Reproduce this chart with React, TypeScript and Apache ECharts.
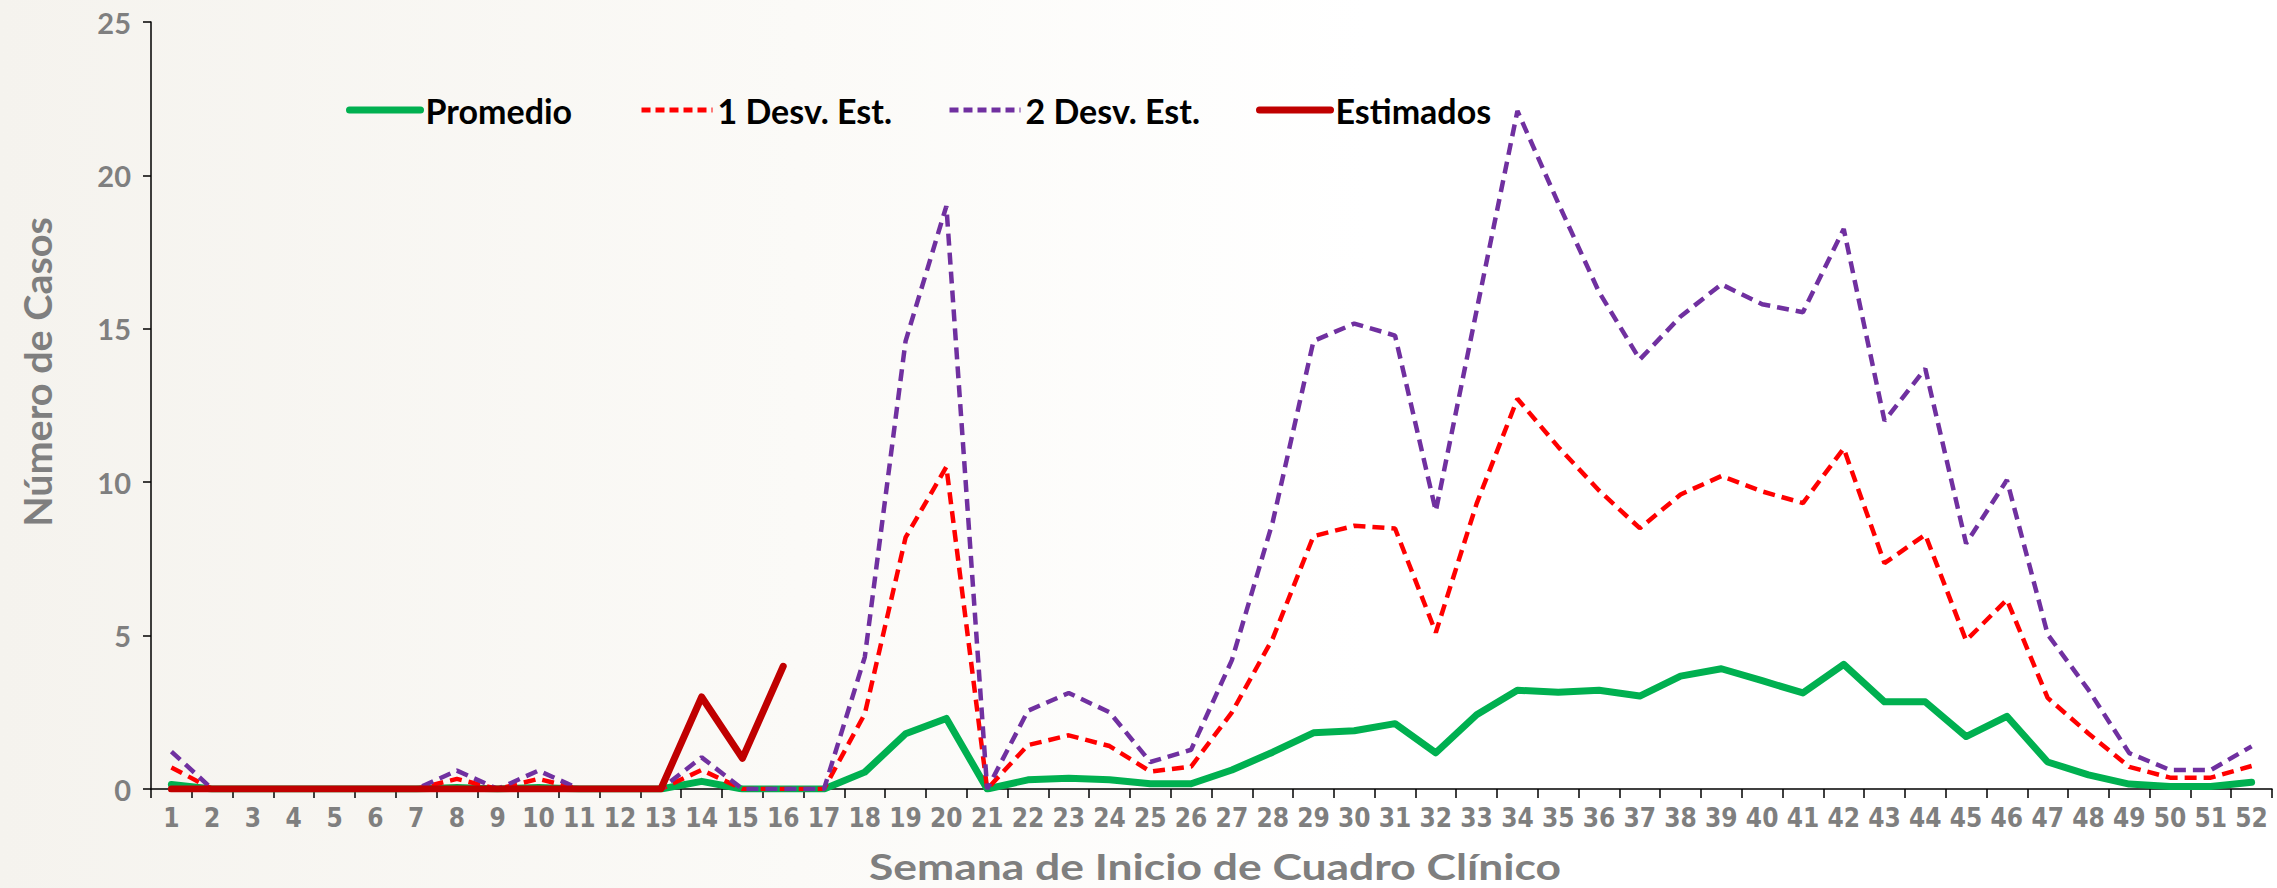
import React, { useEffect, useRef } from "react";
import * as echarts from "echarts";

const weeks = ["1","2","3","4","5","6","7","8","9","10","11","12","13","14","15","16","17","18","19","20","21","22","23","24","25","26","27","28","29","30","31","32","33","34","35","36","37","38","39","40","41","42","43","44","45","46","47","48","49","50","51","52"];

const promedio = [0.15,0,0,0,0,0,0,0.05,0,0.05,0,0,0,0.25,0,0,0,0.55,1.8,2.3,0,0.3,0.35,0.3,0.17,0.17,0.62,1.2,1.83,1.9,2.13,1.18,2.42,3.22,3.15,3.22,3.03,3.68,3.92,3.53,3.13,4.06,2.84,2.84,1.71,2.37,0.88,0.46,0.16,0.08,0.08,0.22];

const desv1 = [0.7,0,0,0,0,0,0,0.33,0,0.33,0,0,0,0.62,0,0,0,2.45,8.2,10.5,0,1.43,1.75,1.4,0.57,0.73,2.5,4.9,8.24,8.58,8.49,5.1,9.3,12.72,11.15,9.73,8.5,9.6,10.2,9.7,9.32,11.1,7.36,8.29,4.84,6.17,2.97,1.81,0.72,0.37,0.37,0.75];

const desv2 = [1.22,0,0,0,0,0,0,0.6,0,0.6,0,0,0,1.03,0,0,0,4.3,14.6,19.0,0,2.55,3.13,2.5,0.88,1.28,4.2,8.7,14.6,15.17,14.78,9.06,15.6,22.1,19.1,16.2,14.0,15.4,16.45,15.8,15.54,18.25,12.0,13.7,8.0,10.07,5.04,3.23,1.17,0.62,0.62,1.39];

const estimados = [0,0,0,0,0,0,0,0,0,0,0,0,0,3,1,4];

const seriesNames = ["Promedio", "1 Desv. Est.", "2 Desv. Est.", "Estimados"];
const seriesColors = ["#00b050", "#ff0000", "#7030a0", "#c00000"];
const yTicks = { min: 0, max: 25, interval: 5 };

const legendLefts = [346, 639, 947, 1256];
const lineWidths = [7, 4.5, 4.5, 7];
const dash: number[] = [12, 7];

export default function App() {
  const ref = useRef<HTMLDivElement>(null);
  useEffect(() => {
    if (!ref.current) return;
    const chart = echarts.init(ref.current, null, { renderer: "svg" });
    const grey = "#7f7f7f";
    const legendText = {
      color: "#000000",
      fontFamily: "Lato",
      fontWeight: "bold" as const,
      fontSize: 34,
    };
    chart.setOption({
      animation: false,
      backgroundColor: {
        type: "linear",
        x: 0, y: 0, x2: 1, y2: 0,
        colorStops: [
          { offset: 0, color: "#f5f3ee" },
          { offset: 0.35, color: "#fbfaf7" },
          { offset: 0.6, color: "#ffffff" },
          { offset: 1, color: "#ffffff" },
        ],
      },
      grid: { left: 151, right: 5, top: 22, bottom: 99, containLabel: false },
      legend: seriesNames.map((n, i) => ({
        data: [n],
        left: legendLefts[i],
        top: 93,
        padding: 0,
        itemWidth: 71,
        itemHeight: 24,
        itemGap: 0,
        itemStyle: { opacity: 0 },
        lineStyle: {
          width: i === 1 || i === 2 ? 5 : lineWidths[i],
          color: seriesColors[i],
          type: i === 1 || i === 2 ? [9, 5] : "solid",
          cap: i === 1 || i === 2 ? "butt" : "round",
        },
        textStyle: legendText,
      })),
      xAxis: {
        type: "category",
        data: weeks,
        boundaryGap: true,
        axisLine: { lineStyle: { color: "#000000", width: 1.5 } },
        axisTick: { show: true, interval: 0, length: 9, lineStyle: { color: "#000000", width: 1.5 } },
        axisLabel: {
          interval: 0,
          margin: 16,
          color: grey,
          fontFamily: "Liberation Sans Narrow, Arial Narrow, DejaVu Sans Condensed, sans-serif",
          fontWeight: "bold",
          fontSize: 26,
        },
        splitLine: { show: false },
      },
      yAxis: {
        type: "value",
        min: yTicks.min,
        max: yTicks.max,
        interval: yTicks.interval,
        axisLine: { show: true, lineStyle: { color: "#000000", width: 1.5 } },
        axisTick: { show: true, length: 8, lineStyle: { color: "#000000", width: 1.5 } },
        axisLabel: {
          margin: 20,
          color: grey,
          fontFamily: "Lato",
          fontWeight: "bold",
          fontSize: 29,
        },
        splitLine: { show: false },
      },
      graphic: [
        {
          type: "text",
          x: 37,
          y: 372,
          rotation: Math.PI / 2,
          scaleX: 1.04,
          style: {
            text: "Número de Casos",
            fill: grey,
            font: "bold 38px Lato",
            align: "center",
            verticalAlign: "middle",
          },
        },
        {
          type: "text",
          x: 1215,
          y: 866,
          scaleX: 1.2,
          style: {
            text: "Semana de Inicio de Cuadro Clínico",
            fill: grey,
            font: "bold 37px Lato",
            align: "center",
            verticalAlign: "middle",
          },
        },
      ],
      series: [
        {
          name: seriesNames[0],
          type: "line",
          data: promedio,
          symbol: "none",
          lineStyle: { color: seriesColors[0], width: lineWidths[0], join: "round", cap: "round" },
          itemStyle: { color: seriesColors[0] },
          z: 2,
        },
        {
          name: seriesNames[1],
          type: "line",
          data: desv1,
          symbol: "none",
          lineStyle: { color: seriesColors[1], width: lineWidths[1], type: dash },
          itemStyle: { color: seriesColors[1] },
          z: 3,
        },
        {
          name: seriesNames[2],
          type: "line",
          data: desv2,
          symbol: "none",
          lineStyle: { color: seriesColors[2], width: lineWidths[2], type: dash },
          itemStyle: { color: seriesColors[2] },
          z: 4,
        },
        {
          name: seriesNames[3],
          type: "line",
          data: estimados,
          symbol: "none",
          lineStyle: { color: seriesColors[3], width: lineWidths[3], join: "round", cap: "round" },
          itemStyle: { color: seriesColors[3] },
          z: 5,
        },
      ],
    });
    return () => chart.dispose();
  }, []);
  return (
    <div
      ref={ref}
      style={{ position: "absolute", left: 0, top: 0, width: 2277, height: 888 }}
    />
  );
}
